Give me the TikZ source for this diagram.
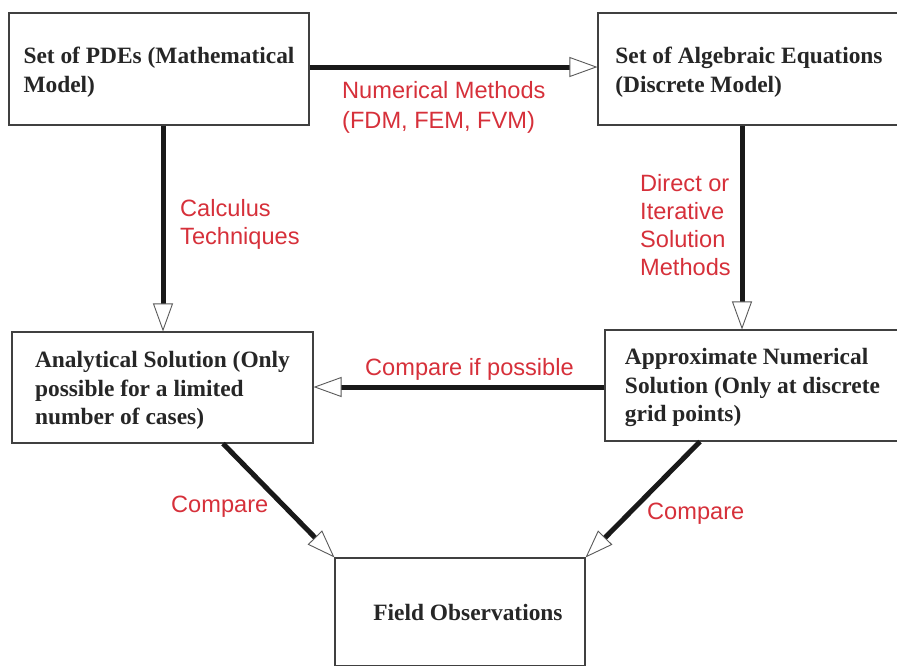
\documentclass[tikz,border=0pt]{standalone}
\usepackage{fontspec}
\setmainfont{Liberation Serif}
\newfontfamily\lsans{Liberation Sans}
\usetikzlibrary{arrows.meta}
\definecolor{lblred}{RGB}{214,48,58}
\begin{document}
\begin{tikzpicture}[x=1pt,y=-1pt,
  box/.style={draw=black!75, line width=1.1pt, rectangle, inner sep=2pt, align=left,
    font=\fontsize{23.4}{28.5}\selectfont\bfseries, text=black!85},
  lbl/.style={anchor=west, align=left, inner sep=0pt, text=lblred,
    font=\lsans\fontsize{23.6}{28}\selectfont},
  arr/.style={line width=5pt, draw=black!90,
    -{Triangle[length=28pt,width=20pt,fill=white,color=black!65,line width=0.9pt]}}]
\useasboundingbox (0,0) rectangle (897,665);
\clip (0,0) rectangle (897,665);
\node[box, minimum width=300pt, minimum height=112pt] (A) at (159,69)
  {\rule{0pt}{6pt}\\[-12pt]Set of PDEs (Mathematical\\Model)};
\node[box, minimum width=302pt, minimum height=112pt] (B) at (749,69)
  {\rule{0pt}{6pt}\\[-12pt]Set of Algebraic Equations\\(Discrete Model)};
\node[box, minimum width=301pt, minimum height=111pt] (C) at (162.5,387.5)
  {\rule{0pt}{6pt}\\[-12pt]Analytical Solution (Only\\possible for a limited\\number of cases)};
\node[box, minimum width=295pt, minimum height=111pt] (D) at (752.5,385.5)
  {\rule{0pt}{4pt}\\[-12pt]Approximate Numerical\\Solution (Only at discrete\\grid points)};
\node[box, minimum width=250pt, minimum height=108pt] (E) at (460,612)
  {\hspace*{16pt}Field Observations};
\coordinate (yab) at (0,67);
\coordinate (xac) at (163,0);
\coordinate (xbd) at (742,0);
\coordinate (ydc) at (0,387);
\coordinate (xce) at (223,0);
\coordinate (xde) at (700,0);
\draw[arr] (A.east |- yab) -- (B.west |- yab);
\draw[arr] (xac |- A.south) -- (xac |- C.north);
\draw[arr] (xbd |- B.south) -- (xbd |- D.north);
\draw[arr] (D.west |- ydc) -- (C.east |- ydc);
\draw[arr] (xce |- C.south) -- (E.north west);
\draw[arr] (xde |- D.south) -- (E.north east);
\node[lbl, font=\lsans\fontsize{23.6}{30}\selectfont] (l1) at (342,107) {Numerical Methods\\(FDM, FEM, FVM)};
\node[lbl] (l2) at (180,224) {Calculus\\Techniques};
\node[lbl] (l3) at (640,225) {Direct or\\Iterative\\Solution\\Methods};
\node[lbl] (l4) at (365,369.5) {Compare if possible};
\node[lbl] (l5) at (171,506.5) {Compare};
\node[lbl] (l6) at (647,513.5) {Compare};
\end{tikzpicture}
\end{document}
